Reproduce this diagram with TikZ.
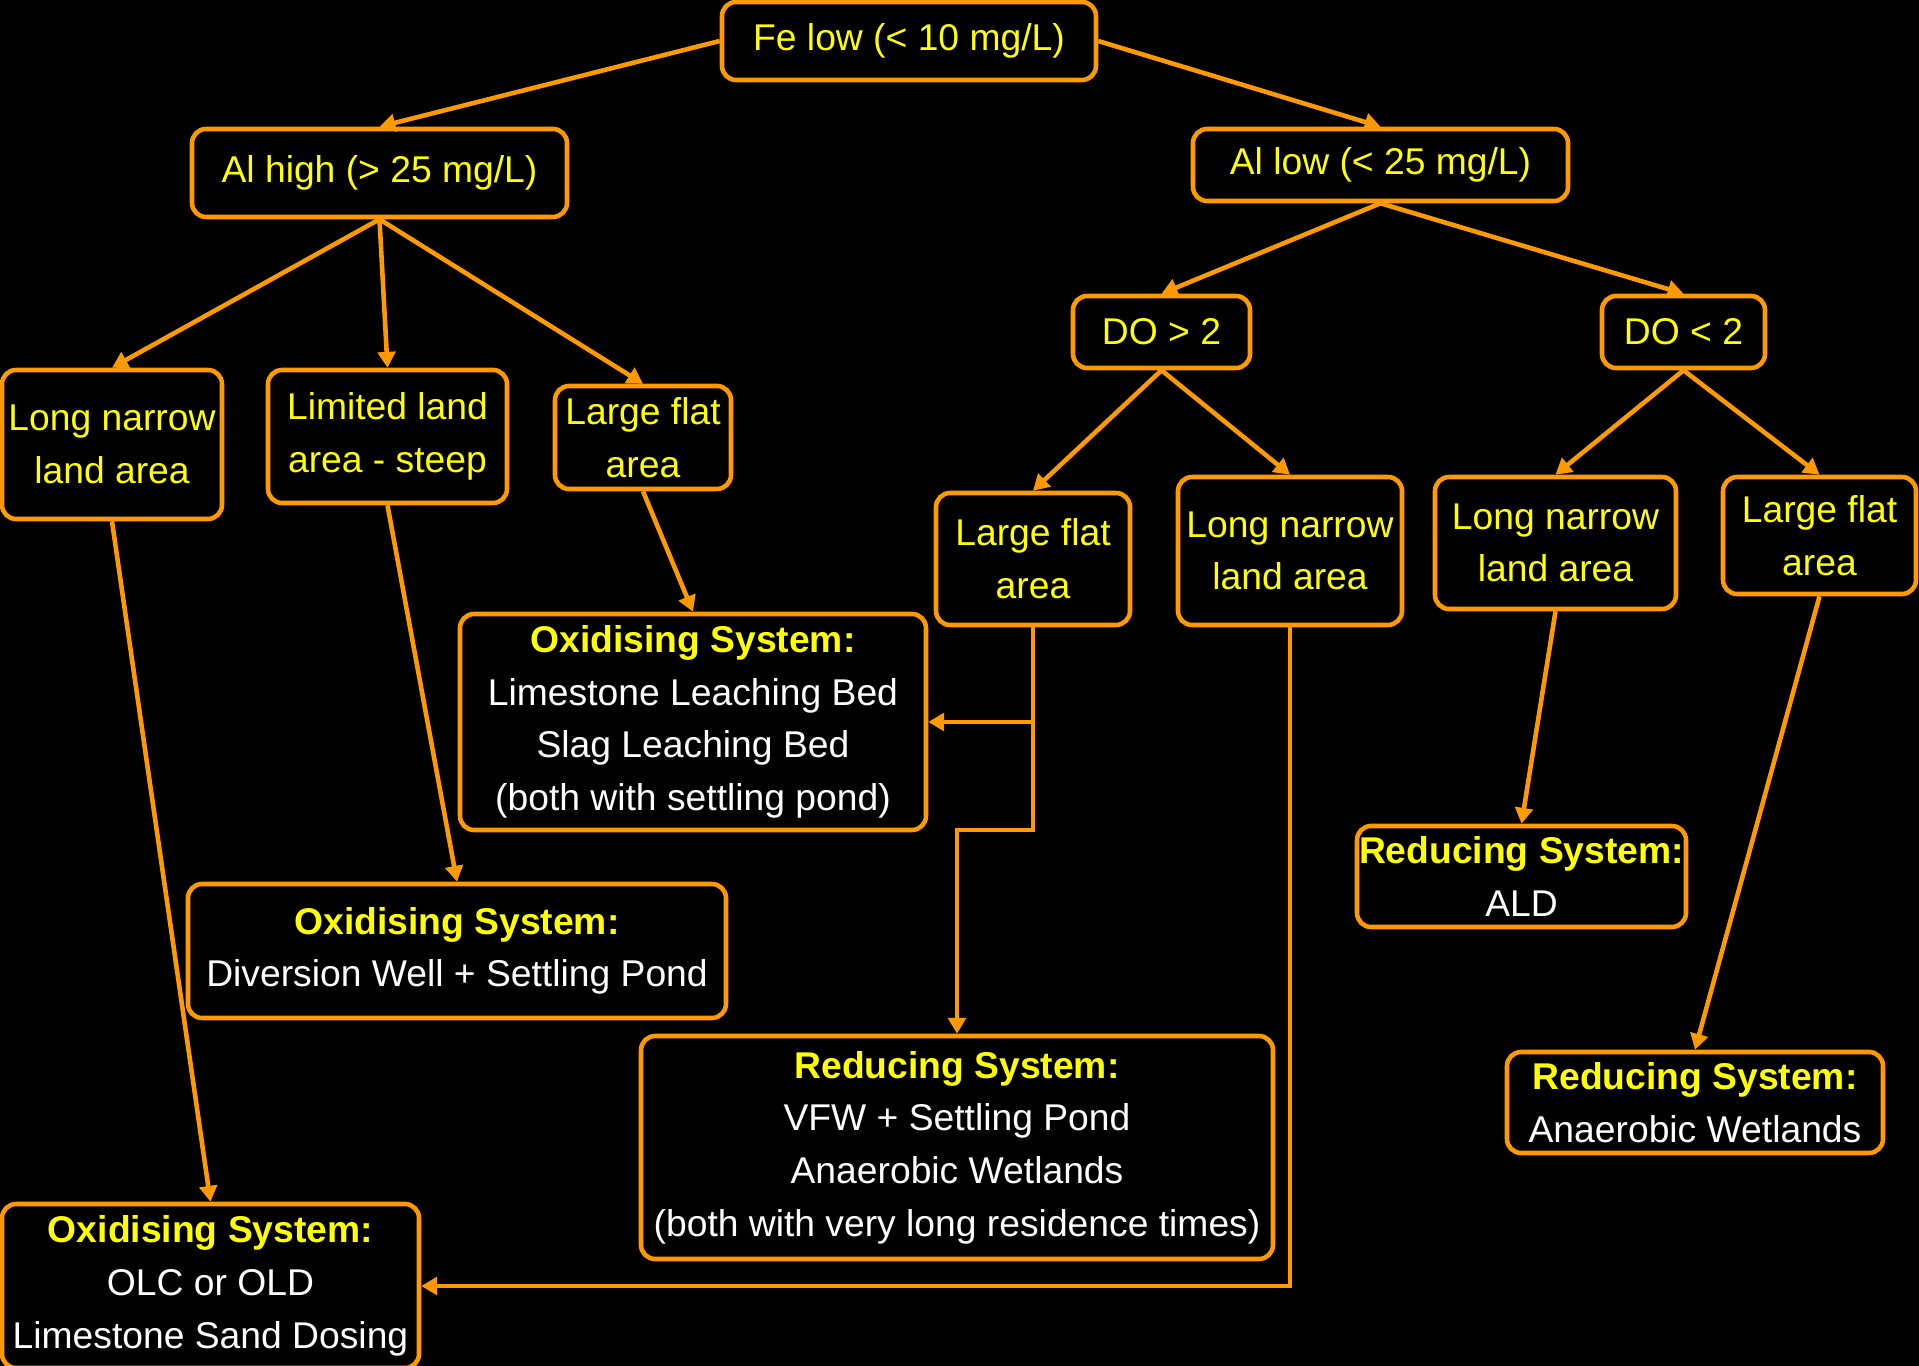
\documentclass[tikz,border=0pt]{standalone}
\usepackage{fontspec}
\setmainfont{Liberation Sans}
\usetikzlibrary{arrows.meta}
\definecolor{boxorange}{RGB}{255,153,0}
\definecolor{txtyellow}{RGB}{255,255,0}

\begin{document}
\begin{tikzpicture}[
  every node/.style={font=\fontsize{10.6}{15}\selectfont},
  cond/.style={draw=boxorange, line width=1.3pt, rounded corners=4pt, fill=black, text=txtyellow, align=center, inner sep=0pt},
  sys/.style={cond, text=white},
  arr/.style={draw=boxorange, line width=1.3pt, -{Triangle[length=4.5pt,width=5pt]}}
]
\fill[black] (0,0) rectangle (19.19,-13.66);
\useasboundingbox (0,0) rectangle (19.19,-13.66);

\node[cond, minimum width=3.74cm, minimum height=0.78cm] (fe) at (9.09,-0.41) {Fe low (< 10 mg/L)};
\node[cond, minimum width=3.75cm, minimum height=0.88cm] (alhigh) at (3.795,-1.73) {Al high (> 25 mg/L)};
\node[cond, minimum width=3.75cm, minimum height=0.72cm] (allow) at (13.805,-1.65) {Al low (< 25 mg/L)};
\node[cond, minimum width=1.77cm, minimum height=0.72cm] (dogt) at (11.615,-3.32) {DO > 2};
\node[cond, minimum width=1.63cm, minimum height=0.72cm] (dolt) at (16.835,-3.32) {DO < 2};

\node[cond, minimum width=2.20cm, minimum height=1.49cm] (lnleft) at (1.12,-4.445) {Long narrow\\land area};
\node[cond, minimum width=2.39cm, minimum height=1.33cm] (limited) at (3.875,-4.365) {Limited land\\area - steep};
\node[cond, minimum width=1.76cm, minimum height=1.03cm] (lfleft) at (6.43,-4.375) {Large flat\\area};
\node[cond, minimum width=1.94cm, minimum height=1.32cm] (lfmid) at (10.33,-5.59) {Large flat\\area};
\node[cond, minimum width=2.24cm, minimum height=1.48cm] (lnmid) at (12.90,-5.51) {Long narrow\\land area};
\node[cond, minimum width=2.41cm, minimum height=1.32cm] (lnright) at (15.555,-5.43) {Long narrow\\land area};
\node[cond, minimum width=1.93cm, minimum height=1.17cm] (lfright) at (18.195,-5.355) {Large flat\\area};

\node[sys, minimum width=4.66cm, minimum height=2.16cm] (oxllb) at (6.93,-7.22) {\textbf{\color{txtyellow}Oxidising System:}\\Limestone Leaching Bed\\Slag Leaching Bed\\(both with settling pond)};
\node[sys, minimum width=5.38cm, minimum height=1.34cm] (oxdiv) at (4.57,-9.51) {\textbf{\color{txtyellow}Oxidising System:}\\Diversion Well + Settling Pond};
\node[sys, minimum width=6.32cm, minimum height=2.23cm] (redvfw) at (9.57,-11.475) {\textbf{\color{txtyellow}Reducing System:}\\VFW + Settling Pond\\Anaerobic Wetlands\\(both with very long residence times)};
\node[sys, minimum width=3.29cm, minimum height=1.01cm] (redald) at (15.215,-8.765) {\textbf{\color{txtyellow}Reducing System:}\\ALD};
\node[sys, minimum width=3.76cm, minimum height=1.01cm] (redanae) at (16.95,-11.025) {\textbf{\color{txtyellow}Reducing System:}\\Anaerobic Wetlands};
\node[sys, minimum width=4.17cm, minimum height=1.64cm] (oxolc) at (2.105,-12.86) {\textbf{\color{txtyellow}Oxidising System:}\\OLC or OLD\\Limestone Sand Dosing};

\coordinate (bend) at (10.33,-8.30);

\draw[arr] (fe.west) -- (alhigh.north);
\draw[arr] (fe.east) -- (allow.north);
\draw[arr] (alhigh.south) -- (lnleft.north);
\draw[arr] (alhigh.south) -- (limited.north);
\draw[arr] (alhigh.south) -- (lfleft.north);
\draw[arr] (allow.south) -- (dogt.north);
\draw[arr] (allow.south) -- (dolt.north);
\draw[arr] (dogt.south) -- (lfmid.north);
\draw[arr] (dogt.south) -- (lnmid.north);
\draw[arr] (dolt.south) -- (lnright.north);
\draw[arr] (dolt.south) -- (lfright.north);
\draw[arr] (lnleft.south) -- (oxolc.north);
\draw[arr] (limited.south) -- (oxdiv.north);
\draw[arr] (lfleft.south) -- (oxllb.north);
\draw[arr] (lfmid.south) |- (oxllb.east);
\draw[arr] (lfmid.south) -- (bend) -| (redvfw.north);
\draw[arr] (lnmid.south) |- (oxolc.east);
\draw[arr] (lnright.south) -- (redald.north);
\draw[arr] (lfright.south) -- (redanae.north);
\end{tikzpicture}
\end{document}
